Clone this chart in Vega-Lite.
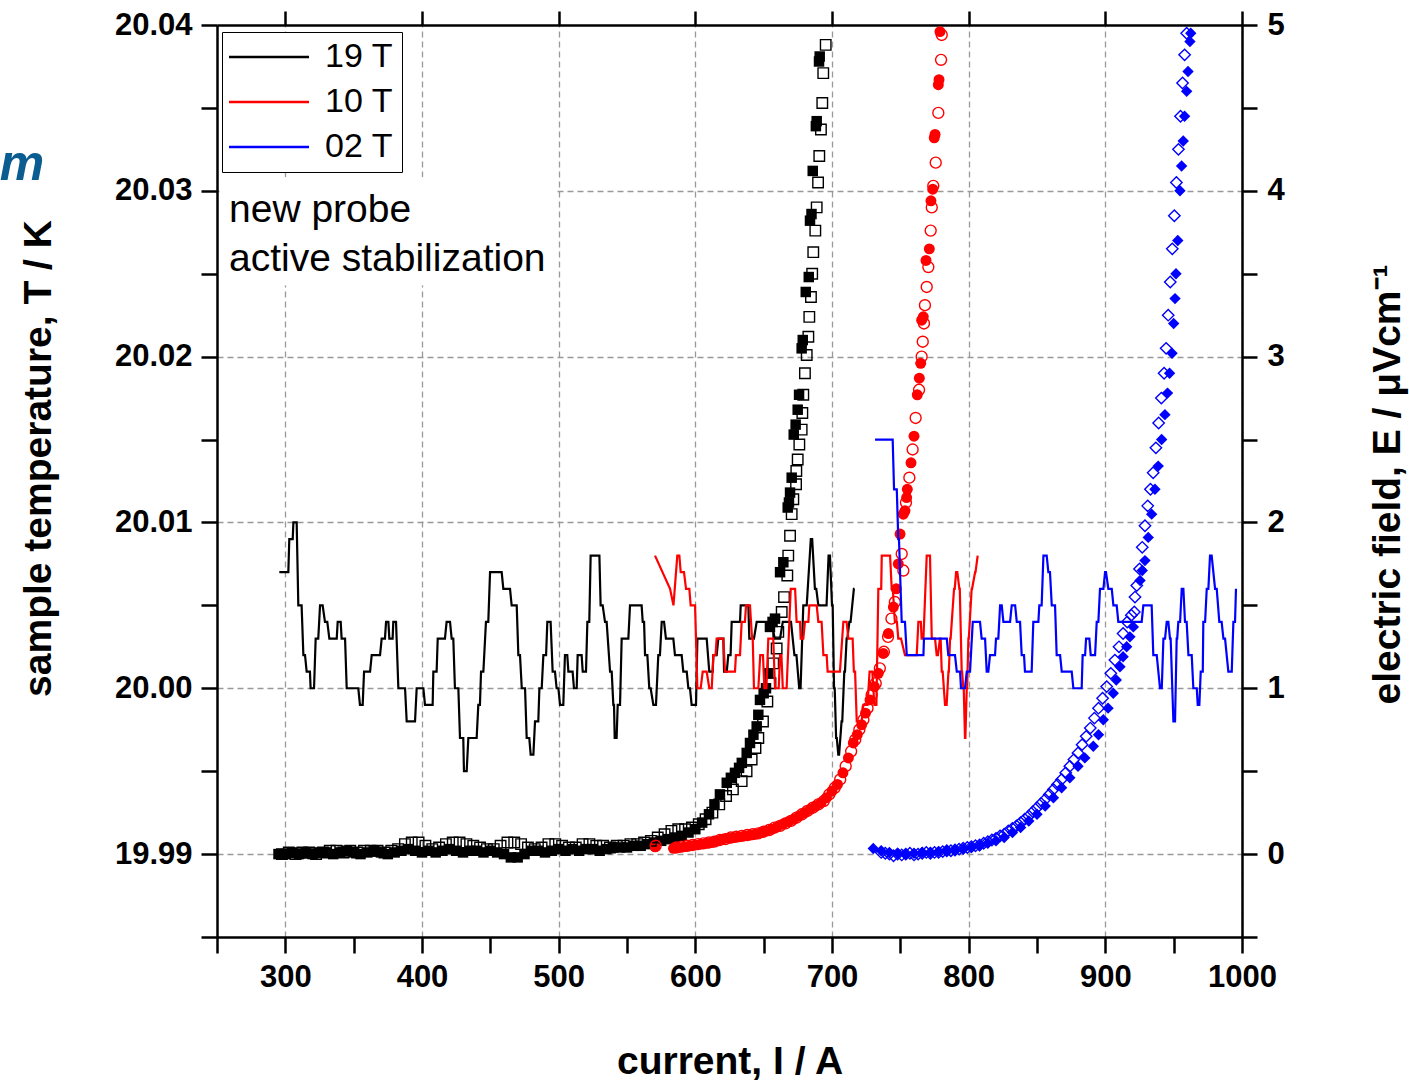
{
"$schema": "https://vega.github.io/schema/vega-lite/v6.json",
"width": 1025, "height": 912,
"autosize": {"type": "none"},
"padding": {"left": 217, "top": 25, "right": 167, "bottom": 143},
"background": "white",
"config": {"view": {"stroke": null}, "font": "Liberation Sans"},
"datasets": {
"temp": [
{"s":"19 T","I":295.6,"T":20.007},{"s":"19 T","I":302.2,"T":20.007},{"s":"19 T","I":302.9,"T":20.009},{"s":"19 T","I":305.4,"T":20.009},{"s":"19 T","I":305.9,"T":20.010},{"s":"19 T","I":308.3,"T":20.010},{"s":"19 T","I":309.5,"T":20.005},{"s":"19 T","I":311.9,"T":20.005},{"s":"19 T","I":313.2,"T":20.002},{"s":"19 T","I":314.4,"T":20.002},{"s":"19 T","I":315.6,"T":20.001},{"s":"19 T","I":318.0,"T":20.001},{"s":"19 T","I":318.5,"T":20.000},{"s":"19 T","I":321.0,"T":20.000},{"s":"19 T","I":322.2,"T":20.003},{"s":"19 T","I":324.1,"T":20.003},{"s":"19 T","I":325.4,"T":20.005},{"s":"19 T","I":327.3,"T":20.005},{"s":"19 T","I":329.0,"T":20.004},{"s":"19 T","I":330.7,"T":20.004},{"s":"19 T","I":332.2,"T":20.003},{"s":"19 T","I":337.6,"T":20.003},{"s":"19 T","I":338.3,"T":20.004},{"s":"19 T","I":340.5,"T":20.004},{"s":"19 T","I":341.2,"T":20.003},{"s":"19 T","I":343.7,"T":20.003},{"s":"19 T","I":344.9,"T":20.000},{"s":"19 T","I":353.4,"T":20.000},{"s":"19 T","I":354.6,"T":19.999},{"s":"19 T","I":356.6,"T":19.999},{"s":"19 T","I":357.6,"T":20.001},{"s":"19 T","I":362.0,"T":20.001},{"s":"19 T","I":363.2,"T":20.002},{"s":"19 T","I":369.3,"T":20.002},{"s":"19 T","I":370.5,"T":20.003},{"s":"19 T","I":372.9,"T":20.003},{"s":"19 T","I":373.7,"T":20.004},{"s":"19 T","I":375.4,"T":20.004},{"s":"19 T","I":376.1,"T":20.003},{"s":"19 T","I":378.5,"T":20.003},{"s":"19 T","I":379.0,"T":20.004},{"s":"19 T","I":381.0,"T":20.004},{"s":"19 T","I":382.7,"T":20.000},{"s":"19 T","I":387.6,"T":20.000},{"s":"19 T","I":388.8,"T":19.998},{"s":"19 T","I":394.9,"T":19.998},{"s":"19 T","I":396.1,"T":20.000},{"s":"19 T","I":401.0,"T":20.000},{"s":"19 T","I":402.2,"T":19.999},{"s":"19 T","I":407.8,"T":19.999},{"s":"19 T","I":408.3,"T":20.001},{"s":"19 T","I":410.7,"T":20.001},{"s":"19 T","I":411.5,"T":20.003},{"s":"19 T","I":416.8,"T":20.003},{"s":"19 T","I":418.0,"T":20.004},{"s":"19 T","I":420.5,"T":20.004},{"s":"19 T","I":421.7,"T":20.003},{"s":"19 T","I":422.9,"T":20.003},{"s":"19 T","I":424.1,"T":20.000},{"s":"19 T","I":426.6,"T":20.000},{"s":"19 T","I":427.8,"T":19.997},{"s":"19 T","I":430.2,"T":19.997},{"s":"19 T","I":430.7,"T":19.995},{"s":"19 T","I":432.7,"T":19.995},{"s":"19 T","I":433.9,"T":19.997},{"s":"19 T","I":440.0,"T":19.997},{"s":"19 T","I":441.2,"T":19.999},{"s":"19 T","I":442.4,"T":19.999},{"s":"19 T","I":443.2,"T":20.001},{"s":"19 T","I":444.9,"T":20.001},{"s":"19 T","I":446.8,"T":20.004},{"s":"19 T","I":448.5,"T":20.004},{"s":"19 T","I":449.8,"T":20.007},{"s":"19 T","I":458.3,"T":20.007},{"s":"19 T","I":459.5,"T":20.006},{"s":"19 T","I":464.4,"T":20.006},{"s":"19 T","I":465.6,"T":20.005},{"s":"19 T","I":469.3,"T":20.005},{"s":"19 T","I":470.5,"T":20.002},{"s":"19 T","I":471.7,"T":20.002},{"s":"19 T","I":473.0,"T":20.000},{"s":"19 T","I":475.4,"T":20.000},{"s":"19 T","I":476.6,"T":19.997},{"s":"19 T","I":478.5,"T":19.997},{"s":"19 T","I":479.5,"T":19.996},{"s":"19 T","I":481.5,"T":19.996},{"s":"19 T","I":482.7,"T":19.998},{"s":"19 T","I":485.1,"T":19.998},{"s":"19 T","I":485.9,"T":20.000},{"s":"19 T","I":487.6,"T":20.000},{"s":"19 T","I":488.8,"T":20.002},{"s":"19 T","I":490.8,"T":20.002},{"s":"19 T","I":491.7,"T":20.004},{"s":"19 T","I":494.1,"T":20.004},{"s":"19 T","I":495.6,"T":20.001},{"s":"19 T","I":497.3,"T":20.001},{"s":"19 T","I":498.5,"T":20.000},{"s":"19 T","I":499.8,"T":20.000},{"s":"19 T","I":501.0,"T":19.999},{"s":"19 T","I":503.4,"T":19.999},{"s":"19 T","I":504.6,"T":20.002},{"s":"19 T","I":506.3,"T":20.002},{"s":"19 T","I":507.1,"T":20.001},{"s":"19 T","I":510.2,"T":20.001},{"s":"19 T","I":511.2,"T":20.000},{"s":"19 T","I":513.2,"T":20.000},{"s":"19 T","I":513.9,"T":20.002},{"s":"19 T","I":516.8,"T":20.002},{"s":"19 T","I":517.6,"T":20.001},{"s":"19 T","I":520.0,"T":20.001},{"s":"19 T","I":521.0,"T":20.004},{"s":"19 T","I":522.4,"T":20.004},{"s":"19 T","I":523.4,"T":20.008},{"s":"19 T","I":529.8,"T":20.008},{"s":"19 T","I":530.7,"T":20.005},{"s":"19 T","I":532.2,"T":20.005},{"s":"19 T","I":533.9,"T":20.004},{"s":"19 T","I":535.1,"T":20.004},{"s":"19 T","I":537.6,"T":20.001},{"s":"19 T","I":538.8,"T":20.001},{"s":"19 T","I":540.0,"T":19.999},{"s":"19 T","I":540.5,"T":19.999},{"s":"19 T","I":541.0,"T":19.997},{"s":"19 T","I":542.4,"T":19.997},{"s":"19 T","I":543.2,"T":19.999},{"s":"19 T","I":544.9,"T":19.999},{"s":"19 T","I":546.1,"T":20.003},{"s":"19 T","I":551.0,"T":20.003},{"s":"19 T","I":552.2,"T":20.005},{"s":"19 T","I":560.7,"T":20.005},{"s":"19 T","I":561.5,"T":20.004},{"s":"19 T","I":562.5,"T":20.004},{"s":"19 T","I":563.2,"T":20.002},{"s":"19 T","I":564.9,"T":20.002},{"s":"19 T","I":566.3,"T":20.000},{"s":"19 T","I":567.3,"T":20.000},{"s":"19 T","I":569.3,"T":19.999},{"s":"19 T","I":571.2,"T":19.999},{"s":"19 T","I":572.9,"T":20.002},{"s":"19 T","I":574.1,"T":20.002},{"s":"19 T","I":575.4,"T":20.004},{"s":"19 T","I":577.1,"T":20.004},{"s":"19 T","I":578.5,"T":20.003},{"s":"19 T","I":583.9,"T":20.003},{"s":"19 T","I":585.1,"T":20.002},{"s":"19 T","I":590.0,"T":20.002},{"s":"19 T","I":591.2,"T":20.001},{"s":"19 T","I":593.7,"T":20.001},{"s":"19 T","I":594.9,"T":20.000},{"s":"19 T","I":596.1,"T":20.000},{"s":"19 T","I":597.3,"T":19.999},{"s":"19 T","I":600.5,"T":19.999},{"s":"19 T","I":601.5,"T":20.003},{"s":"19 T","I":608.3,"T":20.003},{"s":"19 T","I":610.2,"T":20.001},{"s":"19 T","I":612.7,"T":20.001},{"s":"19 T","I":613.2,"T":20.002},{"s":"19 T","I":615.6,"T":20.002},{"s":"19 T","I":616.8,"T":20.003},{"s":"19 T","I":620.5,"T":20.003},{"s":"19 T","I":621.0,"T":20.001},{"s":"19 T","I":623.0,"T":20.001},{"s":"19 T","I":624.1,"T":20.002},{"s":"19 T","I":625.8,"T":20.002},{"s":"19 T","I":626.6,"T":20.004},{"s":"19 T","I":632.7,"T":20.004},{"s":"19 T","I":633.2,"T":20.005},{"s":"19 T","I":638.8,"T":20.005},{"s":"19 T","I":639.5,"T":20.003},{"s":"19 T","I":642.9,"T":20.003},{"s":"19 T","I":644.9,"T":20.004},{"s":"19 T","I":656.0,"T":20.004},{"s":"19 T","I":658.0,"T":20.003},{"s":"19 T","I":662.0,"T":20.003},{"s":"19 T","I":664.0,"T":20.004},{"s":"19 T","I":670.0,"T":20.004},{"s":"19 T","I":672.5,"T":20.002},{"s":"19 T","I":674.0,"T":20.002},{"s":"19 T","I":676.0,"T":20.000},{"s":"19 T","I":677.0,"T":20.000},{"s":"19 T","I":679.0,"T":20.005},{"s":"19 T","I":681.5,"T":20.005},{"s":"19 T","I":684.5,"T":20.009},{"s":"19 T","I":685.5,"T":20.009},{"s":"19 T","I":687.5,"T":20.006},{"s":"19 T","I":688.5,"T":20.006},{"s":"19 T","I":690.0,"T":20.005},{"s":"19 T","I":696.0,"T":20.005},{"s":"19 T","I":697.5,"T":20.008},{"s":"19 T","I":698.5,"T":20.008},{"s":"19 T","I":700.0,"T":20.005},{"s":"19 T","I":700.5,"T":20.005},{"s":"19 T","I":701.5,"T":20.000},{"s":"19 T","I":702.0,"T":20.000},{"s":"19 T","I":703.0,"T":19.997},{"s":"19 T","I":703.5,"T":19.997},{"s":"19 T","I":704.6,"T":19.996},{"s":"19 T","I":705.2,"T":19.996},{"s":"19 T","I":707.0,"T":19.998},{"s":"19 T","I":707.5,"T":19.998},{"s":"19 T","I":709.0,"T":20.001},{"s":"19 T","I":709.5,"T":20.001},{"s":"19 T","I":710.7,"T":20.003},{"s":"19 T","I":711.2,"T":20.003},{"s":"19 T","I":712.7,"T":20.004},{"s":"19 T","I":713.6,"T":20.004},{"s":"19 T","I":716.0,"T":20.006},{"s":"19 T","I":716.5,"T":20.006},
{"s":"10 T","I":570.5,"T":20.008},{"s":"10 T","I":581.5,"T":20.006},{"s":"10 T","I":584.0,"T":20.005},{"s":"10 T","I":586.8,"T":20.008},{"s":"10 T","I":588.3,"T":20.008},{"s":"10 T","I":589.3,"T":20.007},{"s":"10 T","I":591.7,"T":20.007},{"s":"10 T","I":593.2,"T":20.006},{"s":"10 T","I":595.6,"T":20.006},{"s":"10 T","I":596.6,"T":20.005},{"s":"10 T","I":599.8,"T":20.005},{"s":"10 T","I":601.5,"T":20.000},{"s":"10 T","I":603.9,"T":20.000},{"s":"10 T","I":605.4,"T":20.001},{"s":"10 T","I":608.3,"T":20.001},{"s":"10 T","I":610.2,"T":20.000},{"s":"10 T","I":612.0,"T":20.000},{"s":"10 T","I":613.2,"T":20.002},{"s":"10 T","I":614.8,"T":20.002},{"s":"10 T","I":615.6,"T":20.003},{"s":"10 T","I":620.5,"T":20.003},{"s":"10 T","I":621.7,"T":20.001},{"s":"10 T","I":629.0,"T":20.001},{"s":"10 T","I":629.7,"T":20.002},{"s":"10 T","I":632.7,"T":20.002},{"s":"10 T","I":633.9,"T":20.004},{"s":"10 T","I":636.3,"T":20.004},{"s":"10 T","I":637.1,"T":20.005},{"s":"10 T","I":640.0,"T":20.005},{"s":"10 T","I":641.5,"T":20.003},{"s":"10 T","I":642.0,"T":20.003},{"s":"10 T","I":642.9,"T":20.000},{"s":"10 T","I":646.1,"T":20.000},{"s":"10 T","I":647.5,"T":20.002},{"s":"10 T","I":649.5,"T":20.002},{"s":"10 T","I":650.5,"T":20.000},{"s":"10 T","I":652.0,"T":20.000},{"s":"10 T","I":653.4,"T":20.003},{"s":"10 T","I":657.0,"T":20.003},{"s":"10 T","I":658.3,"T":20.000},{"s":"10 T","I":661.0,"T":20.000},{"s":"10 T","I":662.0,"T":20.002},{"s":"10 T","I":663.0,"T":20.002},{"s":"10 T","I":664.0,"T":20.000},{"s":"10 T","I":666.8,"T":20.000},{"s":"10 T","I":669.8,"T":20.006},{"s":"10 T","I":673.0,"T":20.006},{"s":"10 T","I":674.1,"T":20.004},{"s":"10 T","I":676.6,"T":20.004},{"s":"10 T","I":677.1,"T":20.003},{"s":"10 T","I":679.0,"T":20.003},{"s":"10 T","I":680.2,"T":20.004},{"s":"10 T","I":682.7,"T":20.004},{"s":"10 T","I":683.4,"T":20.005},{"s":"10 T","I":688.8,"T":20.005},{"s":"10 T","I":690.0,"T":20.004},{"s":"10 T","I":692.4,"T":20.004},{"s":"10 T","I":693.7,"T":20.002},{"s":"10 T","I":696.1,"T":20.002},{"s":"10 T","I":696.8,"T":20.001},{"s":"10 T","I":705.8,"T":20.001},{"s":"10 T","I":708.3,"T":20.004},{"s":"10 T","I":710.7,"T":20.004},{"s":"10 T","I":712.0,"T":20.003},{"s":"10 T","I":715.1,"T":20.003},{"s":"10 T","I":716.0,"T":20.001},{"s":"10 T","I":716.9,"T":20.001},{"s":"10 T","I":718.1,"T":19.998},{"s":"10 T","I":721.7,"T":19.998},{"s":"10 T","I":723.0,"T":19.999},{"s":"10 T","I":726.0,"T":19.999},{"s":"10 T","I":727.5,"T":20.001},{"s":"10 T","I":729.5,"T":20.001},{"s":"10 T","I":731.0,"T":19.999},{"s":"10 T","I":732.5,"T":19.999},{"s":"10 T","I":733.9,"T":20.006},{"s":"10 T","I":736.0,"T":20.006},{"s":"10 T","I":736.4,"T":20.008},{"s":"10 T","I":742.5,"T":20.008},{"s":"10 T","I":743.7,"T":20.006},{"s":"10 T","I":744.5,"T":20.006},{"s":"10 T","I":746.0,"T":20.004},{"s":"10 T","I":747.5,"T":20.004},{"s":"10 T","I":748.5,"T":20.003},{"s":"10 T","I":750.5,"T":20.003},{"s":"10 T","I":753.4,"T":20.002},{"s":"10 T","I":762.0,"T":20.002},{"s":"10 T","I":763.2,"T":20.004},{"s":"10 T","I":765.0,"T":20.004},{"s":"10 T","I":765.6,"T":20.003},{"s":"10 T","I":766.9,"T":20.003},{"s":"10 T","I":769.3,"T":20.008},{"s":"10 T","I":771.7,"T":20.008},{"s":"10 T","I":773.0,"T":20.003},{"s":"10 T","I":775.4,"T":20.003},{"s":"10 T","I":776.6,"T":20.002},{"s":"10 T","I":777.5,"T":20.002},{"s":"10 T","I":779.0,"T":20.003},{"s":"10 T","I":779.5,"T":20.003},{"s":"10 T","I":780.3,"T":20.001},{"s":"10 T","I":781.0,"T":20.001},{"s":"10 T","I":782.7,"T":19.999},{"s":"10 T","I":783.9,"T":19.999},{"s":"10 T","I":785.2,"T":20.001},{"s":"10 T","I":785.5,"T":20.001},{"s":"10 T","I":786.4,"T":20.003},{"s":"10 T","I":786.8,"T":20.003},{"s":"10 T","I":789.3,"T":20.006},{"s":"10 T","I":789.8,"T":20.006},{"s":"10 T","I":790.8,"T":20.007},{"s":"10 T","I":791.7,"T":20.007},{"s":"10 T","I":793.2,"T":20.006},{"s":"10 T","I":793.5,"T":20.006},{"s":"10 T","I":794.9,"T":20.001},{"s":"10 T","I":795.2,"T":20.001},{"s":"10 T","I":796.1,"T":20.000},{"s":"10 T","I":796.4,"T":20.000},{"s":"10 T","I":797.3,"T":19.997},{"s":"10 T","I":797.6,"T":19.997},{"s":"10 T","I":798.6,"T":20.000},{"s":"10 T","I":798.9,"T":20.000},{"s":"10 T","I":799.8,"T":20.003},{"s":"10 T","I":800.1,"T":20.003},{"s":"10 T","I":802.2,"T":20.006},{"s":"10 T","I":802.5,"T":20.006},{"s":"10 T","I":804.7,"T":20.007},{"s":"10 T","I":805.0,"T":20.007},{"s":"10 T","I":806.6,"T":20.008},
{"s":"02 T","I":731.5,"T":20.015},{"s":"02 T","I":744.4,"T":20.015},{"s":"02 T","I":745.4,"T":20.012},{"s":"02 T","I":747.4,"T":20.012},{"s":"02 T","I":748.5,"T":20.009},{"s":"02 T","I":749.0,"T":20.009},{"s":"02 T","I":751.0,"T":20.004},{"s":"02 T","I":753.4,"T":20.004},{"s":"02 T","I":754.7,"T":20.002},{"s":"02 T","I":766.9,"T":20.002},{"s":"02 T","I":767.3,"T":20.003},{"s":"02 T","I":784.0,"T":20.003},{"s":"02 T","I":785.1,"T":20.002},{"s":"02 T","I":790.0,"T":20.002},{"s":"02 T","I":791.3,"T":20.001},{"s":"02 T","I":793.7,"T":20.001},{"s":"02 T","I":794.4,"T":20.000},{"s":"02 T","I":797.3,"T":20.000},{"s":"02 T","I":798.6,"T":20.001},{"s":"02 T","I":801.0,"T":20.001},{"s":"02 T","I":803.0,"T":20.004},{"s":"02 T","I":808.3,"T":20.004},{"s":"02 T","I":809.5,"T":20.003},{"s":"02 T","I":812.0,"T":20.003},{"s":"02 T","I":813.2,"T":20.001},{"s":"02 T","I":814.4,"T":20.001},{"s":"02 T","I":815.6,"T":20.002},{"s":"02 T","I":819.3,"T":20.002},{"s":"02 T","I":820.0,"T":20.003},{"s":"02 T","I":821.7,"T":20.003},{"s":"02 T","I":823.0,"T":20.005},{"s":"02 T","I":824.2,"T":20.005},{"s":"02 T","I":825.4,"T":20.004},{"s":"02 T","I":830.3,"T":20.004},{"s":"02 T","I":831.5,"T":20.005},{"s":"02 T","I":834.0,"T":20.005},{"s":"02 T","I":835.2,"T":20.004},{"s":"02 T","I":837.6,"T":20.004},{"s":"02 T","I":838.8,"T":20.002},{"s":"02 T","I":840.5,"T":20.002},{"s":"02 T","I":841.2,"T":20.001},{"s":"02 T","I":846.1,"T":20.001},{"s":"02 T","I":847.3,"T":20.004},{"s":"02 T","I":851.0,"T":20.004},{"s":"02 T","I":851.7,"T":20.005},{"s":"02 T","I":853.4,"T":20.005},{"s":"02 T","I":854.7,"T":20.008},{"s":"02 T","I":857.1,"T":20.008},{"s":"02 T","I":858.3,"T":20.007},{"s":"02 T","I":859.5,"T":20.007},{"s":"02 T","I":860.8,"T":20.005},{"s":"02 T","I":863.2,"T":20.005},{"s":"02 T","I":864.4,"T":20.002},{"s":"02 T","I":866.9,"T":20.002},{"s":"02 T","I":868.1,"T":20.001},{"s":"02 T","I":875.4,"T":20.001},{"s":"02 T","I":876.6,"T":20.000},{"s":"02 T","I":882.7,"T":20.000},{"s":"02 T","I":883.4,"T":20.002},{"s":"02 T","I":885.2,"T":20.002},{"s":"02 T","I":885.9,"T":20.003},{"s":"02 T","I":888.3,"T":20.003},{"s":"02 T","I":889.3,"T":20.002},{"s":"02 T","I":892.5,"T":20.002},{"s":"02 T","I":893.7,"T":20.004},{"s":"02 T","I":894.9,"T":20.004},{"s":"02 T","I":896.1,"T":20.006},{"s":"02 T","I":898.6,"T":20.006},{"s":"02 T","I":899.8,"T":20.007},{"s":"02 T","I":900.5,"T":20.007},{"s":"02 T","I":902.2,"T":20.006},{"s":"02 T","I":904.7,"T":20.006},{"s":"02 T","I":905.9,"T":20.005},{"s":"02 T","I":908.3,"T":20.005},{"s":"02 T","I":909.5,"T":20.004},{"s":"02 T","I":926.6,"T":20.004},{"s":"02 T","I":927.8,"T":20.005},{"s":"02 T","I":933.9,"T":20.005},{"s":"02 T","I":935.1,"T":20.002},{"s":"02 T","I":937.6,"T":20.002},{"s":"02 T","I":940.0,"T":20.000},{"s":"02 T","I":941.3,"T":20.000},{"s":"02 T","I":942.5,"T":20.003},{"s":"02 T","I":943.7,"T":20.003},{"s":"02 T","I":944.9,"T":20.004},{"s":"02 T","I":946.1,"T":20.004},{"s":"02 T","I":947.3,"T":20.003},{"s":"02 T","I":947.8,"T":20.003},{"s":"02 T","I":949.8,"T":19.998},{"s":"02 T","I":951.0,"T":19.998},{"s":"02 T","I":952.2,"T":20.003},{"s":"02 T","I":952.6,"T":20.003},{"s":"02 T","I":953.4,"T":20.004},{"s":"02 T","I":954.7,"T":20.004},{"s":"02 T","I":955.9,"T":20.006},{"s":"02 T","I":957.1,"T":20.006},{"s":"02 T","I":958.3,"T":20.004},{"s":"02 T","I":959.5,"T":20.004},{"s":"02 T","I":960.8,"T":20.002},{"s":"02 T","I":963.2,"T":20.002},{"s":"02 T","I":964.4,"T":20.000},{"s":"02 T","I":966.9,"T":20.000},{"s":"02 T","I":967.6,"T":19.999},{"s":"02 T","I":968.8,"T":19.999},{"s":"02 T","I":969.8,"T":20.001},{"s":"02 T","I":971.3,"T":20.001},{"s":"02 T","I":971.7,"T":20.004},{"s":"02 T","I":973.0,"T":20.004},{"s":"02 T","I":974.2,"T":20.006},{"s":"02 T","I":975.4,"T":20.006},{"s":"02 T","I":976.6,"T":20.008},{"s":"02 T","I":977.8,"T":20.008},{"s":"02 T","I":980.3,"T":20.006},{"s":"02 T","I":981.5,"T":20.006},{"s":"02 T","I":983.4,"T":20.004},{"s":"02 T","I":985.1,"T":20.004},{"s":"02 T","I":986.4,"T":20.003},{"s":"02 T","I":987.6,"T":20.003},{"s":"02 T","I":990.0,"T":20.001},{"s":"02 T","I":992.5,"T":20.001},{"s":"02 T","I":993.7,"T":20.004},{"s":"02 T","I":994.9,"T":20.004},{"s":"02 T","I":995.6,"T":20.006}
],
"pts": [
{"f":"19 T","m":"f","I":295,"E":0.00},{"f":"19 T","m":"f","I":300,"E":0.00},{"f":"19 T","m":"f","I":305,"E":0.01},{"f":"19 T","m":"f","I":310,"E":0.00},{"f":"19 T","m":"f","I":315,"E":0.01},{"f":"19 T","m":"f","I":320,"E":0.00},{"f":"19 T","m":"f","I":325,"E":0.01},{"f":"19 T","m":"f","I":330,"E":0.01},{"f":"19 T","m":"f","I":335,"E":0.00},{"f":"19 T","m":"f","I":340,"E":0.01},{"f":"19 T","m":"f","I":345,"E":0.02},{"f":"19 T","m":"f","I":350,"E":0.01},{"f":"19 T","m":"f","I":355,"E":0.00},{"f":"19 T","m":"f","I":360,"E":0.01},{"f":"19 T","m":"f","I":365,"E":0.02},{"f":"19 T","m":"f","I":370,"E":0.01},{"f":"19 T","m":"f","I":375,"E":0.00},{"f":"19 T","m":"f","I":380,"E":0.01},{"f":"19 T","m":"f","I":385,"E":0.02},{"f":"19 T","m":"f","I":390,"E":0.03},{"f":"19 T","m":"f","I":395,"E":0.02},{"f":"19 T","m":"f","I":400,"E":0.01},{"f":"19 T","m":"f","I":405,"E":0.02},{"f":"19 T","m":"f","I":410,"E":0.01},{"f":"19 T","m":"f","I":415,"E":0.02},{"f":"19 T","m":"f","I":420,"E":0.03},{"f":"19 T","m":"f","I":425,"E":0.02},{"f":"19 T","m":"f","I":430,"E":0.01},{"f":"19 T","m":"f","I":435,"E":0.02},{"f":"19 T","m":"f","I":440,"E":0.02},{"f":"19 T","m":"f","I":445,"E":0.01},{"f":"19 T","m":"f","I":450,"E":0.02},{"f":"19 T","m":"f","I":455,"E":0.01},{"f":"19 T","m":"f","I":460,"E":0.00},{"f":"19 T","m":"f","I":465,"E":-0.02},{"f":"19 T","m":"f","I":470,"E":-0.02},{"f":"19 T","m":"f","I":475,"E":0.00},{"f":"19 T","m":"f","I":480,"E":0.02},{"f":"19 T","m":"f","I":485,"E":0.02},{"f":"19 T","m":"f","I":490,"E":0.01},{"f":"19 T","m":"f","I":495,"E":0.02},{"f":"19 T","m":"f","I":500,"E":0.03},{"f":"19 T","m":"f","I":505,"E":0.02},{"f":"19 T","m":"f","I":510,"E":0.03},{"f":"19 T","m":"f","I":515,"E":0.02},{"f":"19 T","m":"f","I":520,"E":0.03},{"f":"19 T","m":"f","I":525,"E":0.03},{"f":"19 T","m":"f","I":530,"E":0.02},{"f":"19 T","m":"f","I":535,"E":0.03},{"f":"19 T","m":"f","I":540,"E":0.04},{"f":"19 T","m":"f","I":545,"E":0.04},{"f":"19 T","m":"f","I":550,"E":0.04},{"f":"19 T","m":"f","I":555,"E":0.05},{"f":"19 T","m":"f","I":560,"E":0.05},{"f":"19 T","m":"f","I":565,"E":0.06},{"f":"19 T","m":"f","I":570,"E":0.07},{"f":"19 T","m":"f","I":575,"E":0.08},{"f":"19 T","m":"f","I":580,"E":0.09},{"f":"19 T","m":"f","I":585,"E":0.10},{"f":"19 T","m":"f","I":590,"E":0.11},{"f":"19 T","m":"f","I":595,"E":0.13},{"f":"19 T","m":"f","I":600,"E":0.15},{"f":"19 T","m":"f","I":605,"E":0.19},{"f":"19 T","m":"f","I":610,"E":0.24},{"f":"19 T","m":"f","I":614,"E":0.30},{"f":"19 T","m":"f","I":618,"E":0.36},{"f":"19 T","m":"f","I":623,"E":0.43},{"f":"19 T","m":"f","I":626,"E":0.46},{"f":"19 T","m":"f","I":629,"E":0.49},{"f":"19 T","m":"f","I":632,"E":0.52},{"f":"19 T","m":"f","I":634,"E":0.55},{"f":"19 T","m":"f","I":637.6,"E":0.61},{"f":"19 T","m":"f","I":640,"E":0.67},{"f":"19 T","m":"f","I":642.5,"E":0.72},{"f":"19 T","m":"f","I":644.9,"E":0.77},{"f":"19 T","m":"f","I":646.1,"E":0.84},{"f":"19 T","m":"f","I":647.3,"E":0.93},{"f":"19 T","m":"f","I":650,"E":0.97},{"f":"19 T","m":"f","I":651.7,"E":1.00},{"f":"19 T","m":"f","I":653.4,"E":1.09},{"f":"19 T","m":"f","I":654.6,"E":1.37},{"f":"19 T","m":"f","I":656.5,"E":1.40},{"f":"19 T","m":"f","I":658.3,"E":1.42},{"f":"19 T","m":"f","I":662,"E":1.70},{"f":"19 T","m":"f","I":664.4,"E":1.76},{"f":"19 T","m":"f","I":667.6,"E":2.09},{"f":"19 T","m":"f","I":668.5,"E":2.12},{"f":"19 T","m":"f","I":669.3,"E":2.18},{"f":"19 T","m":"f","I":670.5,"E":2.27},{"f":"19 T","m":"f","I":672,"E":2.53},{"f":"19 T","m":"f","I":673.4,"E":2.59},{"f":"19 T","m":"f","I":674.9,"E":2.68},{"f":"19 T","m":"f","I":675.9,"E":2.77},{"f":"19 T","m":"f","I":677.8,"E":3.05},{"f":"19 T","m":"f","I":678.6,"E":3.10},{"f":"19 T","m":"f","I":680.8,"E":3.39},{"f":"19 T","m":"f","I":683,"E":3.48},{"f":"19 T","m":"f","I":683.9,"E":3.82},{"f":"19 T","m":"f","I":685,"E":3.86},{"f":"19 T","m":"f","I":685.9,"E":4.12},{"f":"19 T","m":"f","I":688.2,"E":4.39},{"f":"19 T","m":"f","I":688.8,"E":4.42},{"f":"19 T","m":"f","I":690.5,"E":4.78},{"f":"19 T","m":"f","I":691,"E":4.81},
{"f":"19 T","m":"o","I":297.5,"E":0.00},{"f":"19 T","m":"o","I":302.5,"E":0.01},{"f":"19 T","m":"o","I":307.5,"E":0.00},{"f":"19 T","m":"o","I":312.5,"E":0.01},{"f":"19 T","m":"o","I":317.5,"E":0.01},{"f":"19 T","m":"o","I":322.5,"E":0.00},{"f":"19 T","m":"o","I":327.5,"E":0.01},{"f":"19 T","m":"o","I":332.5,"E":0.02},{"f":"19 T","m":"o","I":337.5,"E":0.02},{"f":"19 T","m":"o","I":342.5,"E":0.01},{"f":"19 T","m":"o","I":347.5,"E":0.02},{"f":"19 T","m":"o","I":352.5,"E":0.01},{"f":"19 T","m":"o","I":357.5,"E":0.02},{"f":"19 T","m":"o","I":362.5,"E":0.02},{"f":"19 T","m":"o","I":367.5,"E":0.02},{"f":"19 T","m":"o","I":372.5,"E":0.01},{"f":"19 T","m":"o","I":377.5,"E":0.02},{"f":"19 T","m":"o","I":382.5,"E":0.03},{"f":"19 T","m":"o","I":387.5,"E":0.06},{"f":"19 T","m":"o","I":392.5,"E":0.07},{"f":"19 T","m":"o","I":397.5,"E":0.07},{"f":"19 T","m":"o","I":402.5,"E":0.05},{"f":"19 T","m":"o","I":407.5,"E":0.03},{"f":"19 T","m":"o","I":412.5,"E":0.04},{"f":"19 T","m":"o","I":417.5,"E":0.06},{"f":"19 T","m":"o","I":422.5,"E":0.07},{"f":"19 T","m":"o","I":427.5,"E":0.07},{"f":"19 T","m":"o","I":432.5,"E":0.06},{"f":"19 T","m":"o","I":437.5,"E":0.05},{"f":"19 T","m":"o","I":442.5,"E":0.04},{"f":"19 T","m":"o","I":447.5,"E":0.03},{"f":"19 T","m":"o","I":452.5,"E":0.03},{"f":"19 T","m":"o","I":457.5,"E":0.05},{"f":"19 T","m":"o","I":462.5,"E":0.07},{"f":"19 T","m":"o","I":467.5,"E":0.07},{"f":"19 T","m":"o","I":472.5,"E":0.06},{"f":"19 T","m":"o","I":477.5,"E":0.04},{"f":"19 T","m":"o","I":482.5,"E":0.03},{"f":"19 T","m":"o","I":487.5,"E":0.04},{"f":"19 T","m":"o","I":492.5,"E":0.06},{"f":"19 T","m":"o","I":497.5,"E":0.06},{"f":"19 T","m":"o","I":502.5,"E":0.05},{"f":"19 T","m":"o","I":507.5,"E":0.04},{"f":"19 T","m":"o","I":512.5,"E":0.04},{"f":"19 T","m":"o","I":517.5,"E":0.06},{"f":"19 T","m":"o","I":522.5,"E":0.06},{"f":"19 T","m":"o","I":527.5,"E":0.05},{"f":"19 T","m":"o","I":532.5,"E":0.05},{"f":"19 T","m":"o","I":537.5,"E":0.04},{"f":"19 T","m":"o","I":542.5,"E":0.05},{"f":"19 T","m":"o","I":547.5,"E":0.05},{"f":"19 T","m":"o","I":552.5,"E":0.06},{"f":"19 T","m":"o","I":557.5,"E":0.06},{"f":"19 T","m":"o","I":562.5,"E":0.07},{"f":"19 T","m":"o","I":567.5,"E":0.08},{"f":"19 T","m":"o","I":572.5,"E":0.10},{"f":"19 T","m":"o","I":577.5,"E":0.12},{"f":"19 T","m":"o","I":582.5,"E":0.14},{"f":"19 T","m":"o","I":587.5,"E":0.15},{"f":"19 T","m":"o","I":592.5,"E":0.15},{"f":"19 T","m":"o","I":597.5,"E":0.16},{"f":"19 T","m":"o","I":602.5,"E":0.18},{"f":"19 T","m":"o","I":607.5,"E":0.21},{"f":"19 T","m":"o","I":612.5,"E":0.25},{"f":"19 T","m":"o","I":617.5,"E":0.30},{"f":"19 T","m":"o","I":622.5,"E":0.35},{"f":"19 T","m":"o","I":627.5,"E":0.39},{"f":"19 T","m":"o","I":633.9,"E":0.44},{"f":"19 T","m":"o","I":637.5,"E":0.50},{"f":"19 T","m":"o","I":641.2,"E":0.57},{"f":"19 T","m":"o","I":644,"E":0.64},{"f":"19 T","m":"o","I":646.1,"E":0.70},{"f":"19 T","m":"o","I":649.5,"E":0.80},{"f":"19 T","m":"o","I":652.7,"E":0.92},{"f":"19 T","m":"o","I":655,"E":1.03},{"f":"19 T","m":"o","I":657,"E":1.15},{"f":"19 T","m":"o","I":659.5,"E":1.24},{"f":"19 T","m":"o","I":660.7,"E":1.34},{"f":"19 T","m":"o","I":663.2,"E":1.46},{"f":"19 T","m":"o","I":664.9,"E":1.55},{"f":"19 T","m":"o","I":667.3,"E":1.68},{"f":"19 T","m":"o","I":668,"E":1.80},{"f":"19 T","m":"o","I":669.3,"E":1.92},{"f":"19 T","m":"o","I":670.5,"E":2.05},{"f":"19 T","m":"o","I":671.7,"E":2.14},{"f":"19 T","m":"o","I":673.7,"E":2.23},{"f":"19 T","m":"o","I":673.9,"E":2.31},{"f":"19 T","m":"o","I":674.9,"E":2.38},{"f":"19 T","m":"o","I":676.1,"E":2.47},{"f":"19 T","m":"o","I":677.8,"E":2.56},{"f":"19 T","m":"o","I":678.3,"E":2.66},{"f":"19 T","m":"o","I":679,"E":2.77},{"f":"19 T","m":"o","I":680.2,"E":2.90},{"f":"19 T","m":"o","I":681.5,"E":3.01},{"f":"19 T","m":"o","I":682.7,"E":3.12},{"f":"19 T","m":"o","I":683.4,"E":3.24},{"f":"19 T","m":"o","I":684.6,"E":3.36},{"f":"19 T","m":"o","I":685.5,"E":3.50},{"f":"19 T","m":"o","I":686.3,"E":3.63},{"f":"19 T","m":"o","I":687.8,"E":3.76},{"f":"19 T","m":"o","I":688.8,"E":3.90},{"f":"19 T","m":"o","I":689.8,"E":4.05},{"f":"19 T","m":"o","I":690.7,"E":4.21},{"f":"19 T","m":"o","I":691.9,"E":4.37},{"f":"19 T","m":"o","I":692.9,"E":4.53},{"f":"19 T","m":"o","I":693.6,"E":4.71},{"f":"19 T","m":"o","I":695.4,"E":4.88},
{"f":"10 T","m":"f","I":570.5,"E":0.044},{"f":"10 T","m":"f","I":584,"E":0.035},{"f":"10 T","m":"f","I":588,"E":0.04},{"f":"10 T","m":"f","I":592,"E":0.045},{"f":"10 T","m":"f","I":596,"E":0.05},{"f":"10 T","m":"f","I":600,"E":0.055},{"f":"10 T","m":"f","I":604,"E":0.06},{"f":"10 T","m":"f","I":608,"E":0.065},{"f":"10 T","m":"f","I":612,"E":0.07},{"f":"10 T","m":"f","I":616,"E":0.08},{"f":"10 T","m":"f","I":620,"E":0.09},{"f":"10 T","m":"f","I":624,"E":0.095},{"f":"10 T","m":"f","I":628,"E":0.10},{"f":"10 T","m":"f","I":632,"E":0.105},{"f":"10 T","m":"f","I":636,"E":0.11},{"f":"10 T","m":"f","I":640,"E":0.115},{"f":"10 T","m":"f","I":644,"E":0.12},{"f":"10 T","m":"f","I":648,"E":0.13},{"f":"10 T","m":"f","I":652,"E":0.14},{"f":"10 T","m":"f","I":656,"E":0.15},{"f":"10 T","m":"f","I":660,"E":0.165},{"f":"10 T","m":"f","I":664,"E":0.18},{"f":"10 T","m":"f","I":668,"E":0.195},{"f":"10 T","m":"f","I":672,"E":0.21},{"f":"10 T","m":"f","I":676,"E":0.23},{"f":"10 T","m":"f","I":680,"E":0.25},{"f":"10 T","m":"f","I":684,"E":0.27},{"f":"10 T","m":"f","I":688,"E":0.29},{"f":"10 T","m":"f","I":692,"E":0.31},{"f":"10 T","m":"f","I":696,"E":0.34},{"f":"10 T","m":"f","I":700,"E":0.38},{"f":"10 T","m":"f","I":704,"E":0.42},{"f":"10 T","m":"f","I":708,"E":0.49},{"f":"10 T","m":"f","I":712,"E":0.58},{"f":"10 T","m":"f","I":715.6,"E":0.67},{"f":"10 T","m":"f","I":718.5,"E":0.72},{"f":"10 T","m":"f","I":721.7,"E":0.78},{"f":"10 T","m":"f","I":724.5,"E":0.85},{"f":"10 T","m":"f","I":727.8,"E":0.93},{"f":"10 T","m":"f","I":731,"E":1.01},{"f":"10 T","m":"f","I":733.9,"E":1.09},{"f":"10 T","m":"f","I":737.5,"E":1.21},{"f":"10 T","m":"f","I":741.2,"E":1.33},{"f":"10 T","m":"f","I":744.9,"E":1.49},{"f":"10 T","m":"f","I":747,"E":1.60},{"f":"10 T","m":"f","I":748.5,"E":1.75},{"f":"10 T","m":"f","I":749.8,"E":1.93},{"f":"10 T","m":"f","I":752.2,"E":2.05},{"f":"10 T","m":"f","I":753.4,"E":2.07},{"f":"10 T","m":"f","I":754.6,"E":2.15},{"f":"10 T","m":"f","I":755.1,"E":2.20},{"f":"10 T","m":"f","I":757.8,"E":2.36},{"f":"10 T","m":"f","I":760,"E":2.52},{"f":"10 T","m":"f","I":762.4,"E":2.77},{"f":"10 T","m":"f","I":763.9,"E":2.87},{"f":"10 T","m":"f","I":764.9,"E":2.96},{"f":"10 T","m":"f","I":765.6,"E":3.22},{"f":"10 T","m":"f","I":766.8,"E":3.24},{"f":"10 T","m":"f","I":768.8,"E":3.58},{"f":"10 T","m":"f","I":771.2,"E":3.65},{"f":"10 T","m":"f","I":772.4,"E":3.94},{"f":"10 T","m":"f","I":773.7,"E":4.01},{"f":"10 T","m":"f","I":774.8,"E":4.32},{"f":"10 T","m":"f","I":775.4,"E":4.34},{"f":"10 T","m":"f","I":777.8,"E":4.64},{"f":"10 T","m":"f","I":778.3,"E":4.67},{"f":"10 T","m":"f","I":779,"E":4.96},
{"f":"10 T","m":"o","I":571,"E":0.05},{"f":"10 T","m":"o","I":586,"E":0.04},{"f":"10 T","m":"o","I":590,"E":0.045},{"f":"10 T","m":"o","I":594,"E":0.05},{"f":"10 T","m":"o","I":598,"E":0.055},{"f":"10 T","m":"o","I":602,"E":0.06},{"f":"10 T","m":"o","I":606,"E":0.065},{"f":"10 T","m":"o","I":610,"E":0.07},{"f":"10 T","m":"o","I":614,"E":0.075},{"f":"10 T","m":"o","I":618,"E":0.085},{"f":"10 T","m":"o","I":622,"E":0.09},{"f":"10 T","m":"o","I":626,"E":0.10},{"f":"10 T","m":"o","I":630,"E":0.105},{"f":"10 T","m":"o","I":634,"E":0.11},{"f":"10 T","m":"o","I":638,"E":0.115},{"f":"10 T","m":"o","I":642,"E":0.12},{"f":"10 T","m":"o","I":646,"E":0.125},{"f":"10 T","m":"o","I":650,"E":0.135},{"f":"10 T","m":"o","I":654,"E":0.145},{"f":"10 T","m":"o","I":658,"E":0.16},{"f":"10 T","m":"o","I":662,"E":0.17},{"f":"10 T","m":"o","I":666,"E":0.185},{"f":"10 T","m":"o","I":670,"E":0.20},{"f":"10 T","m":"o","I":674,"E":0.22},{"f":"10 T","m":"o","I":678,"E":0.24},{"f":"10 T","m":"o","I":682,"E":0.26},{"f":"10 T","m":"o","I":686,"E":0.28},{"f":"10 T","m":"o","I":690,"E":0.30},{"f":"10 T","m":"o","I":694,"E":0.32},{"f":"10 T","m":"o","I":698,"E":0.36},{"f":"10 T","m":"o","I":702,"E":0.40},{"f":"10 T","m":"o","I":706,"E":0.45},{"f":"10 T","m":"o","I":710,"E":0.53},{"f":"10 T","m":"o","I":714,"E":0.62},{"f":"10 T","m":"o","I":717,"E":0.69},{"f":"10 T","m":"o","I":720,"E":0.75},{"f":"10 T","m":"o","I":723,"E":0.81},{"f":"10 T","m":"o","I":726,"E":0.88},{"f":"10 T","m":"o","I":729,"E":0.96},{"f":"10 T","m":"o","I":732,"E":1.03},{"f":"10 T","m":"o","I":735,"E":1.12},{"f":"10 T","m":"o","I":738,"E":1.22},{"f":"10 T","m":"o","I":741,"E":1.31},{"f":"10 T","m":"o","I":743.5,"E":1.42},{"f":"10 T","m":"o","I":746,"E":1.52},{"f":"10 T","m":"o","I":752.2,"E":1.71},{"f":"10 T","m":"o","I":751,"E":1.81},{"f":"10 T","m":"o","I":754.1,"E":2.12},{"f":"10 T","m":"o","I":756.6,"E":2.27},{"f":"10 T","m":"o","I":759,"E":2.44},{"f":"10 T","m":"o","I":761.2,"E":2.63},{"f":"10 T","m":"o","I":763.7,"E":2.80},{"f":"10 T","m":"o","I":765.6,"E":3.00},{"f":"10 T","m":"o","I":766.4,"E":3.09},{"f":"10 T","m":"o","I":767.3,"E":3.20},{"f":"10 T","m":"o","I":768,"E":3.31},{"f":"10 T","m":"o","I":769.3,"E":3.42},{"f":"10 T","m":"o","I":770.5,"E":3.54},{"f":"10 T","m":"o","I":772.2,"E":3.76},{"f":"10 T","m":"o","I":773,"E":3.90},{"f":"10 T","m":"o","I":774.1,"E":4.03},{"f":"10 T","m":"o","I":775.9,"E":4.17},{"f":"10 T","m":"o","I":777.8,"E":4.47},{"f":"10 T","m":"o","I":779.8,"E":4.79},{"f":"10 T","m":"o","I":780.3,"E":4.94},
{"f":"02 T","m":"f","I":730.2,"E":0.034},{"f":"02 T","m":"f","I":736,"E":0.02},{"f":"02 T","m":"f","I":742,"E":0.01},{"f":"02 T","m":"f","I":748,"E":0.005},{"f":"02 T","m":"f","I":754,"E":0.0},{"f":"02 T","m":"f","I":760,"E":0.005},{"f":"02 T","m":"f","I":766,"E":0.01},{"f":"02 T","m":"f","I":772,"E":0.01},{"f":"02 T","m":"f","I":778,"E":0.015},{"f":"02 T","m":"f","I":784,"E":0.02},{"f":"02 T","m":"f","I":790,"E":0.025},{"f":"02 T","m":"f","I":796,"E":0.03},{"f":"02 T","m":"f","I":802,"E":0.04},{"f":"02 T","m":"f","I":808,"E":0.05},{"f":"02 T","m":"f","I":814,"E":0.065},{"f":"02 T","m":"f","I":820,"E":0.08},{"f":"02 T","m":"f","I":826,"E":0.10},{"f":"02 T","m":"f","I":832,"E":0.13},{"f":"02 T","m":"f","I":838,"E":0.16},{"f":"02 T","m":"f","I":844,"E":0.20},{"f":"02 T","m":"f","I":850,"E":0.24},{"f":"02 T","m":"f","I":856,"E":0.29},{"f":"02 T","m":"f","I":862,"E":0.34},{"f":"02 T","m":"f","I":868,"E":0.40},{"f":"02 T","m":"f","I":874,"E":0.46},{"f":"02 T","m":"f","I":880,"E":0.53},{"f":"02 T","m":"f","I":885,"E":0.58},{"f":"02 T","m":"f","I":891.2,"E":0.65},{"f":"02 T","m":"f","I":895,"E":0.72},{"f":"02 T","m":"f","I":898.5,"E":0.81},{"f":"02 T","m":"f","I":902,"E":0.88},{"f":"02 T","m":"f","I":905.8,"E":0.97},{"f":"02 T","m":"f","I":908,"E":1.05},{"f":"02 T","m":"f","I":910.7,"E":1.13},{"f":"02 T","m":"f","I":913,"E":1.19},{"f":"02 T","m":"f","I":915.6,"E":1.25},{"f":"02 T","m":"f","I":918,"E":1.31},{"f":"02 T","m":"f","I":920.5,"E":1.37},{"f":"02 T","m":"f","I":925.4,"E":1.65},{"f":"02 T","m":"f","I":927,"E":1.71},{"f":"02 T","m":"f","I":929,"E":1.77},{"f":"02 T","m":"f","I":931.4,"E":1.91},{"f":"02 T","m":"f","I":933.9,"E":2.05},{"f":"02 T","m":"f","I":936.3,"E":2.20},{"f":"02 T","m":"f","I":938.7,"E":2.34},{"f":"02 T","m":"f","I":941.2,"E":2.50},{"f":"02 T","m":"f","I":943.6,"E":2.65},{"f":"02 T","m":"f","I":945.5,"E":2.78},{"f":"02 T","m":"f","I":947,"E":2.90},{"f":"02 T","m":"f","I":948.8,"E":3.02},{"f":"02 T","m":"f","I":950,"E":3.20},{"f":"02 T","m":"f","I":951,"E":3.35},{"f":"02 T","m":"f","I":951.7,"E":3.50},{"f":"02 T","m":"f","I":953,"E":3.70},{"f":"02 T","m":"f","I":954.6,"E":4.00},{"f":"02 T","m":"f","I":955.8,"E":4.15},{"f":"02 T","m":"f","I":957,"E":4.30},{"f":"02 T","m":"f","I":958,"E":4.45},{"f":"02 T","m":"f","I":959.5,"E":4.60},{"f":"02 T","m":"f","I":960.5,"E":4.72},{"f":"02 T","m":"f","I":961.9,"E":4.90},{"f":"02 T","m":"f","I":962.5,"E":4.95},
{"f":"02 T","m":"o","I":736,"E":0.01},{"f":"02 T","m":"o","I":739,"E":0.005},{"f":"02 T","m":"o","I":742,"E":0.0},{"f":"02 T","m":"o","I":745,"E":-0.01},{"f":"02 T","m":"o","I":748,"E":0.0},{"f":"02 T","m":"o","I":751,"E":-0.005},{"f":"02 T","m":"o","I":754,"E":0.0},{"f":"02 T","m":"o","I":757,"E":0.005},{"f":"02 T","m":"o","I":760,"E":-0.005},{"f":"02 T","m":"o","I":763,"E":0.0},{"f":"02 T","m":"o","I":766,"E":0.005},{"f":"02 T","m":"o","I":769,"E":0.01},{"f":"02 T","m":"o","I":772,"E":0.005},{"f":"02 T","m":"o","I":775,"E":0.01},{"f":"02 T","m":"o","I":778,"E":0.01},{"f":"02 T","m":"o","I":781,"E":0.015},{"f":"02 T","m":"o","I":784,"E":0.02},{"f":"02 T","m":"o","I":787,"E":0.02},{"f":"02 T","m":"o","I":790,"E":0.025},{"f":"02 T","m":"o","I":793,"E":0.03},{"f":"02 T","m":"o","I":796,"E":0.035},{"f":"02 T","m":"o","I":799,"E":0.04},{"f":"02 T","m":"o","I":802,"E":0.045},{"f":"02 T","m":"o","I":805,"E":0.05},{"f":"02 T","m":"o","I":808,"E":0.055},{"f":"02 T","m":"o","I":811,"E":0.065},{"f":"02 T","m":"o","I":814,"E":0.075},{"f":"02 T","m":"o","I":817,"E":0.085},{"f":"02 T","m":"o","I":820,"E":0.095},{"f":"02 T","m":"o","I":823,"E":0.11},{"f":"02 T","m":"o","I":826,"E":0.12},{"f":"02 T","m":"o","I":829,"E":0.14},{"f":"02 T","m":"o","I":832,"E":0.155},{"f":"02 T","m":"o","I":835,"E":0.17},{"f":"02 T","m":"o","I":838,"E":0.19},{"f":"02 T","m":"o","I":841,"E":0.21},{"f":"02 T","m":"o","I":844,"E":0.23},{"f":"02 T","m":"o","I":847,"E":0.255},{"f":"02 T","m":"o","I":850,"E":0.28},{"f":"02 T","m":"o","I":853,"E":0.305},{"f":"02 T","m":"o","I":856,"E":0.33},{"f":"02 T","m":"o","I":859,"E":0.36},{"f":"02 T","m":"o","I":862,"E":0.39},{"f":"02 T","m":"o","I":865,"E":0.42},{"f":"02 T","m":"o","I":868,"E":0.45},{"f":"02 T","m":"o","I":871,"E":0.49},{"f":"02 T","m":"o","I":874,"E":0.53},{"f":"02 T","m":"o","I":877,"E":0.57},{"f":"02 T","m":"o","I":880,"E":0.61},{"f":"02 T","m":"o","I":883,"E":0.66},{"f":"02 T","m":"o","I":886,"E":0.71},{"f":"02 T","m":"o","I":889,"E":0.76},{"f":"02 T","m":"o","I":892,"E":0.82},{"f":"02 T","m":"o","I":895,"E":0.88},{"f":"02 T","m":"o","I":898,"E":0.94},{"f":"02 T","m":"o","I":901,"E":1.01},{"f":"02 T","m":"o","I":904,"E":1.09},{"f":"02 T","m":"o","I":907,"E":1.17},{"f":"02 T","m":"o","I":910,"E":1.25},{"f":"02 T","m":"o","I":913,"E":1.33},{"f":"02 T","m":"o","I":916,"E":1.40},{"f":"02 T","m":"o","I":919,"E":1.44},{"f":"02 T","m":"o","I":921.2,"E":1.46},{"f":"02 T","m":"o","I":921.7,"E":1.55},{"f":"02 T","m":"o","I":923,"E":1.62},{"f":"02 T","m":"o","I":925,"E":1.72},{"f":"02 T","m":"o","I":927,"E":1.85},{"f":"02 T","m":"o","I":929,"E":1.98},{"f":"02 T","m":"o","I":931,"E":2.10},{"f":"02 T","m":"o","I":933,"E":2.20},{"f":"02 T","m":"o","I":935,"E":2.30},{"f":"02 T","m":"o","I":937,"E":2.45},{"f":"02 T","m":"o","I":939,"E":2.60},{"f":"02 T","m":"o","I":941,"E":2.75},{"f":"02 T","m":"o","I":943,"E":2.90},{"f":"02 T","m":"o","I":944.5,"E":3.05},{"f":"02 T","m":"o","I":946,"E":3.25},{"f":"02 T","m":"o","I":947.5,"E":3.45},{"f":"02 T","m":"o","I":949,"E":3.65},{"f":"02 T","m":"o","I":950.5,"E":3.85},{"f":"02 T","m":"o","I":952,"E":4.05},{"f":"02 T","m":"o","I":953.5,"E":4.25},{"f":"02 T","m":"o","I":955,"E":4.45},{"f":"02 T","m":"o","I":956.5,"E":4.65},{"f":"02 T","m":"o","I":958,"E":4.82},{"f":"02 T","m":"o","I":959.5,"E":4.95}
],
"notes": [{"txt":"new probe","I":258.8,"T":20.02814},{"txt":"active stabilization","I":258.8,"T":20.02516}],
"tag": [{"txt":"m","I":107.3,"T":20.03065}]
},
"resolve": {"scale": {"y": "independent"}},
"layer": [
{
"data": {"name": "notes"},
"mark": {"type": "rect", "color": "white"},
"encoding": {
"x": {"datum": 252, "type": "quantitative", "scale": {"domain": [250, 1000], "nice": false, "zero": false}, "axis": null},
"x2": {"datum": 497},
"y": {"datum": 20.0308, "type": "quantitative", "scale": {"domain": [19.985, 20.04], "nice": false, "zero": false},
"axis": {"orient": "left", "values": [19.99, 20, 20.01, 20.02, 20.03], "grid": true, "gridColor": "#999999", "gridDash": [6, 4], "gridWidth": 1.3, "labels": false, "ticks": false, "domain": false, "title": null, "maxExtent": 0, "minExtent": 0}},
"y2": {"datum": 20.0243}
}
},
{
"data": {"name": "pts"},
"transform": [{"filter": "datum.m == 'f'"}],
"mark": {"type": "point", "filled": true, "opacity": 1, "strokeWidth": 0},
"encoding": {
"x": {"field": "I", "type": "quantitative", "scale": {"domain": [250, 1000], "nice": false, "zero": false},
"axis": {"orient": "top", "values": [300,400,500,600,700,800,900,1000], "labels": false, "grid": true, "gridColor": "#999999", "gridDash": [6, 4], "gridWidth": 1.3, "title": null, "tickSize": 14, "tickWidth": 2.5, "tickColor": "black", "domainColor": "black", "domainWidth": 2.5,
"encode": {"ticks": {"update": {"y2": {"value": 14}}}}}},
"y": {"field": "E", "type": "quantitative", "scale": {"domain": [-0.5, 5], "nice": false, "zero": false},
"axis": {"orient": "right", "values": [-0.5,0,0.5,1,1.5,2,2.5,3,3.5,4,4.5,5],
"labelExpr": "datum.value == round(datum.value) ? format(datum.value, 'd') : ''",
"labelFontSize": 31, "labelFontWeight": "bold", "labelColor": "black", "labelPadding": 10, "labelOverlap": false, "labelFlush": false, "labelBound": false,
"tickSize": 15, "tickWidth": 2.5, "tickColor": "black", "domainColor": "black", "domainWidth": 2.5, "grid": false,
"title": "electric field, E / μVcm⁻¹", "titleFontSize": 39, "titleFontWeight": "bold", "titleColor": "black", "titleAngle": -90, "titleX": 157, "titleY": 459, "titleBaseline": "alphabetic", "titleAlign": "center",
"encode": {"ticks": {"update": {"x": {"signal": "datum.value == round(datum.value) ? -13 : -10"}, "x2": {"signal": "datum.value == round(datum.value) ? 15 : 0"}}}}}},
"fill": {"field": "f", "type": "nominal", "scale": {"range": ["#0000ff","#ff0000","#000000"]}, "legend": null},
"shape": {"field": "f", "type": "nominal", "scale": {"range": ["diamond","circle","square"]}, "legend": null},
"size": {"field": "f", "type": "ordinal", "scale": {"range": [130, 110, 90]}, "legend": null}
}
},
{
"data": {"name": "pts"},
"transform": [{"filter": "datum.m == 'o'"}],
"mark": {"type": "point", "filled": false, "strokeWidth": 1.4, "opacity": 1},
"encoding": {
"x": {"field": "I", "type": "quantitative", "scale": {"domain": [250, 1000], "nice": false, "zero": false}, "axis": null},
"y": {"field": "E", "type": "quantitative", "scale": {"domain": [-0.5, 5], "nice": false, "zero": false}, "axis": null},
"stroke": {"field": "f", "type": "nominal", "scale": {"range": ["#0000ff","#ff0000","#000000"]}, "legend": null},
"shape": {"field": "f", "type": "nominal", "scale": {"range": ["diamond","circle","square"]}, "legend": null},
"size": {"field": "f", "type": "ordinal", "scale": {"range": [130, 110, 90]}, "legend": null}
}
},
{
"data": {"name": "temp"},
"mark": {"type": "line", "strokeWidth": 2.2},
"encoding": {
"x": {"field": "I", "type": "quantitative", "scale": {"domain": [250, 1000], "nice": false, "zero": false},
"axis": {"orient": "bottom", "values": [250,300,350,400,450,500,550,600,650,700,750,800,850,900,950,1000],
"labelExpr": "datum.value % 100 == 0 ? format(datum.value, 'd') : ''",
"labelFontSize": 31, "labelFontWeight": "bold", "labelColor": "black", "labelPadding": 9, "labelFlush": false, "labelOverlap": false, "labelBound": false,
"tickSize": 16, "tickWidth": 2.5, "tickColor": "black", "domainColor": "black", "domainWidth": 2.5, "grid": false,
"title": "current, I / A", "titleFontSize": 39, "titleFontWeight": "bold", "titleColor": "black", "titleX": 512.5, "titleY": 136, "titleBaseline": "alphabetic", "titleAlign": "center",
"encode": {"ticks": {"update": {"y": {"signal": "datum.value % 100 == 0 ? -16 : 0"}, "y2": {"signal": "datum.value % 100 == 0 ? 16 : 9"}}}}}},
"y": {"field": "T", "type": "quantitative", "scale": {"domain": [19.985, 20.04], "nice": false, "zero": false},
"axis": {"orient": "left", "values": [19.985,19.99,19.995,20,20.005,20.01,20.015,20.02,20.025,20.03,20.035,20.04],
"labelExpr": "abs(datum.value*100 - round(datum.value*100)) < 0.01 ? format(datum.value, '.2f') : ''",
"labelFontSize": 31, "labelFontWeight": "bold", "labelColor": "black", "labelPadding": 9, "labelOverlap": false, "labelFlush": false, "labelBound": false,
"tickSize": 16, "tickWidth": 2.5, "tickColor": "black", "domainColor": "black", "domainWidth": 2.5, "grid": false,
"title": "sample temperature, T / K", "titleFontSize": 39, "titleFontWeight": "bold", "titleColor": "black", "titleAngle": -90, "titleX": -167, "titleY": 433, "titleBaseline": "alphabetic", "titleAlign": "center",
"encode": {"ticks": {"update": {"x": {"signal": "abs(datum.value*100 - round(datum.value*100)) < 0.01 ? 12 : 0"}, "x2": {"signal": "abs(datum.value*100 - round(datum.value*100)) < 0.01 ? -16 : -9"}}}}}},
"color": {"field": "s", "type": "nominal", "scale": {"domain": ["19 T","10 T","02 T"], "range": ["#000000","#ff0000","#0000ff"]},
"legend": {"orient": "none", "legendX": 5, "legendY": 7, "title": null, "direction": "vertical", "fillColor": "white", "strokeColor": "black", "padding": 8, "rowPadding": 11, "labelFontSize": 34, "labelColor": "black", "labelOffset": 39, "labelLimit": 300, "symbolType": "M-4,0L4,0", "symbolSize": 400, "symbolStrokeWidth": 2.5, "symbolOffset": 22}}
}
},
{
"data": {"name": "notes"},
"mark": {"type": "text", "align": "left", "baseline": "alphabetic", "fontSize": 39, "color": "black"},
"encoding": {
"x": {"field": "I", "type": "quantitative", "scale": {"domain": [250, 1000], "nice": false, "zero": false}, "axis": null},
"y": {"field": "T", "type": "quantitative", "scale": {"domain": [19.985, 20.04], "nice": false, "zero": false}, "axis": null},
"text": {"field": "txt"}
}
},
{
"data": {"name": "tag"},
"mark": {"type": "text", "align": "center", "baseline": "alphabetic", "fontSize": 50, "fontWeight": "bold", "fontStyle": "italic", "color": "#0b5d91"},
"encoding": {
"x": {"field": "I", "type": "quantitative", "scale": {"domain": [250, 1000], "nice": false, "zero": false}, "axis": null},
"y": {"field": "T", "type": "quantitative", "scale": {"domain": [19.985, 20.04], "nice": false, "zero": false}, "axis": null},
"text": {"field": "txt"}
}
}
]
}
